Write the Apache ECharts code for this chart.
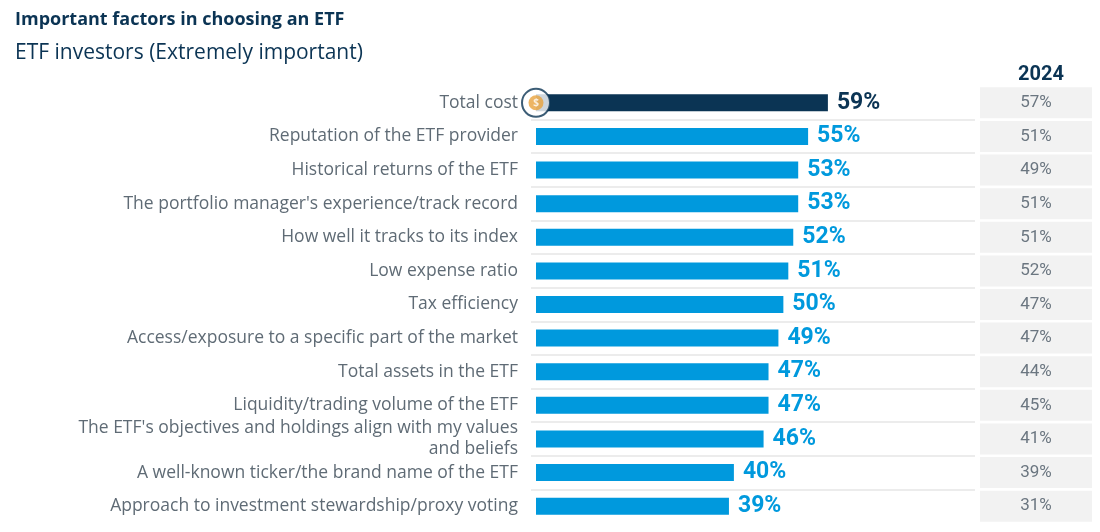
<!DOCTYPE html>
<html><head><meta charset="utf-8">
<script src="https://cdn.jsdelivr.net/npm/echarts@6/dist/echarts.min.js"></script>
<style>html,body{margin:0;background:#fff}#c{width:1100px;height:532px}</style>
</head><body><div id="c"></div>
<script>
// factors, top to bottom
var factors = ['Total cost', 'Reputation of the ETF provider', 'Historical returns of the ETF',
  "The portfolio manager's experience/track record", 'How well it tracks to its index', 'Low expense ratio',
  'Tax efficiency', 'Access/exposure to a specific part of the market', 'Total assets in the ETF',
  'Liquidity/trading volume of the ETF', "The ETF's objectives and holdings align with my values and beliefs",
  'A well-known ticker/the brand name of the ETF', 'Approach to investment stewardship/proxy voting'];
var current = [59, 55, 53, 53, 52, 51, 50, 49, 47, 47, 46, 40, 39];
var prior2024 = [57, 51, 49, 51, 51, 52, 47, 47, 44, 45, 41, 39, 31];

var dark = '#0b3454', blue = '#0099dd';
var chart = echarts.init(document.getElementById('c'));
var font = 'Open Sans';

chart.setOption({
  animation: false,
  textStyle: { fontFamily: font },
  title: [
    { text: 'Important factors in choosing an ETF', left: 10, top: 6,
      textStyle: { fontSize: 18, fontWeight: 'bold', color: dark, fontFamily: font } },
    { text: 'ETF investors (Extremely important)', left: 10, top: 38,
      textStyle: { fontSize: 21, fontWeight: 'normal', color: dark, fontFamily: font } },
    { text: '2024', left: 1036, top: 60, textAlign: 'center',
      textStyle: { fontSize: 20, fontWeight: 'bold', color: dark, fontFamily: 'Roboto' } }
  ],
  grid: [
    { left: 536, right: 0, top: 86, bottom: 9 },
    { left: 980, width: 112, top: 86, bottom: 9 }
  ],
  xAxis: [
    { gridIndex: 0, type: 'value', min: 0, max: 114, show: false },
    { gridIndex: 1, type: 'value', min: 0, max: 1, show: false }
  ],
  yAxis: [
    { gridIndex: 0, type: 'category', data: factors, inverse: true,
      axisLine: { show: false }, axisTick: { show: false },
      splitLine: { show: false },
      axisLabel: { margin: 18, fontSize: 17.5, color: '#5f6b75', width: 440, overflow: 'break', lineHeight: 21 } },
    { gridIndex: 1, type: 'category', data: factors, inverse: true, show: false }
  ],
  series: [
    { type: 'bar', xAxisIndex: 0, yAxisIndex: 0, barWidth: 17,
      data: current.map(function (v, i) { return { value: v, itemStyle: { color: i === 0 ? dark : blue },
        label: { color: i === 0 ? dark : blue } }; }),
      label: { show: true, position: 'right', distance: 9, formatter: '{c}%', fontSize: 23,
        fontWeight: 'bold', fontFamily: 'Roboto' },
      markLine: { silent: true, symbol: 'none', label: { show: false },
        lineStyle: { color: '#ececec', width: 2, type: 'solid' },
        data: factors.slice(0, -1).map(function (f, i) {
          return [{ y: 86 + (i + 1) * 437 / 13, x: 531 }, { x: 975, y: 86 + (i + 1) * 437 / 13 }];
        }) } },
    { type: 'scatter', xAxisIndex: 0, yAxisIndex: 0, z: 5, symbolSize: 28,
      itemStyle: { color: '#fff', borderColor: dark, borderWidth: 2 },
      data: [[0, factors[0]]] },
    { type: 'scatter', xAxisIndex: 0, yAxisIndex: 0, z: 6, symbolSize: 15,
      itemStyle: { color: '#e8a33d' },
      label: { show: true, position: 'inside', formatter: '$', color: '#fff', fontSize: 10, fontWeight: 'bold' },
      data: [[0, factors[0]]] },
    { type: 'bar', xAxisIndex: 1, yAxisIndex: 1, barWidth: 31,
      itemStyle: { color: '#f2f2f2' },
      data: prior2024.map(function () { return 1; }),
      label: { show: true, position: 'inside', color: '#6b7680', fontSize: 17, fontFamily: 'Roboto',
        formatter: function (p) { return prior2024[p.dataIndex] + '%'; } } }
  ]
});
</script></body></html>
